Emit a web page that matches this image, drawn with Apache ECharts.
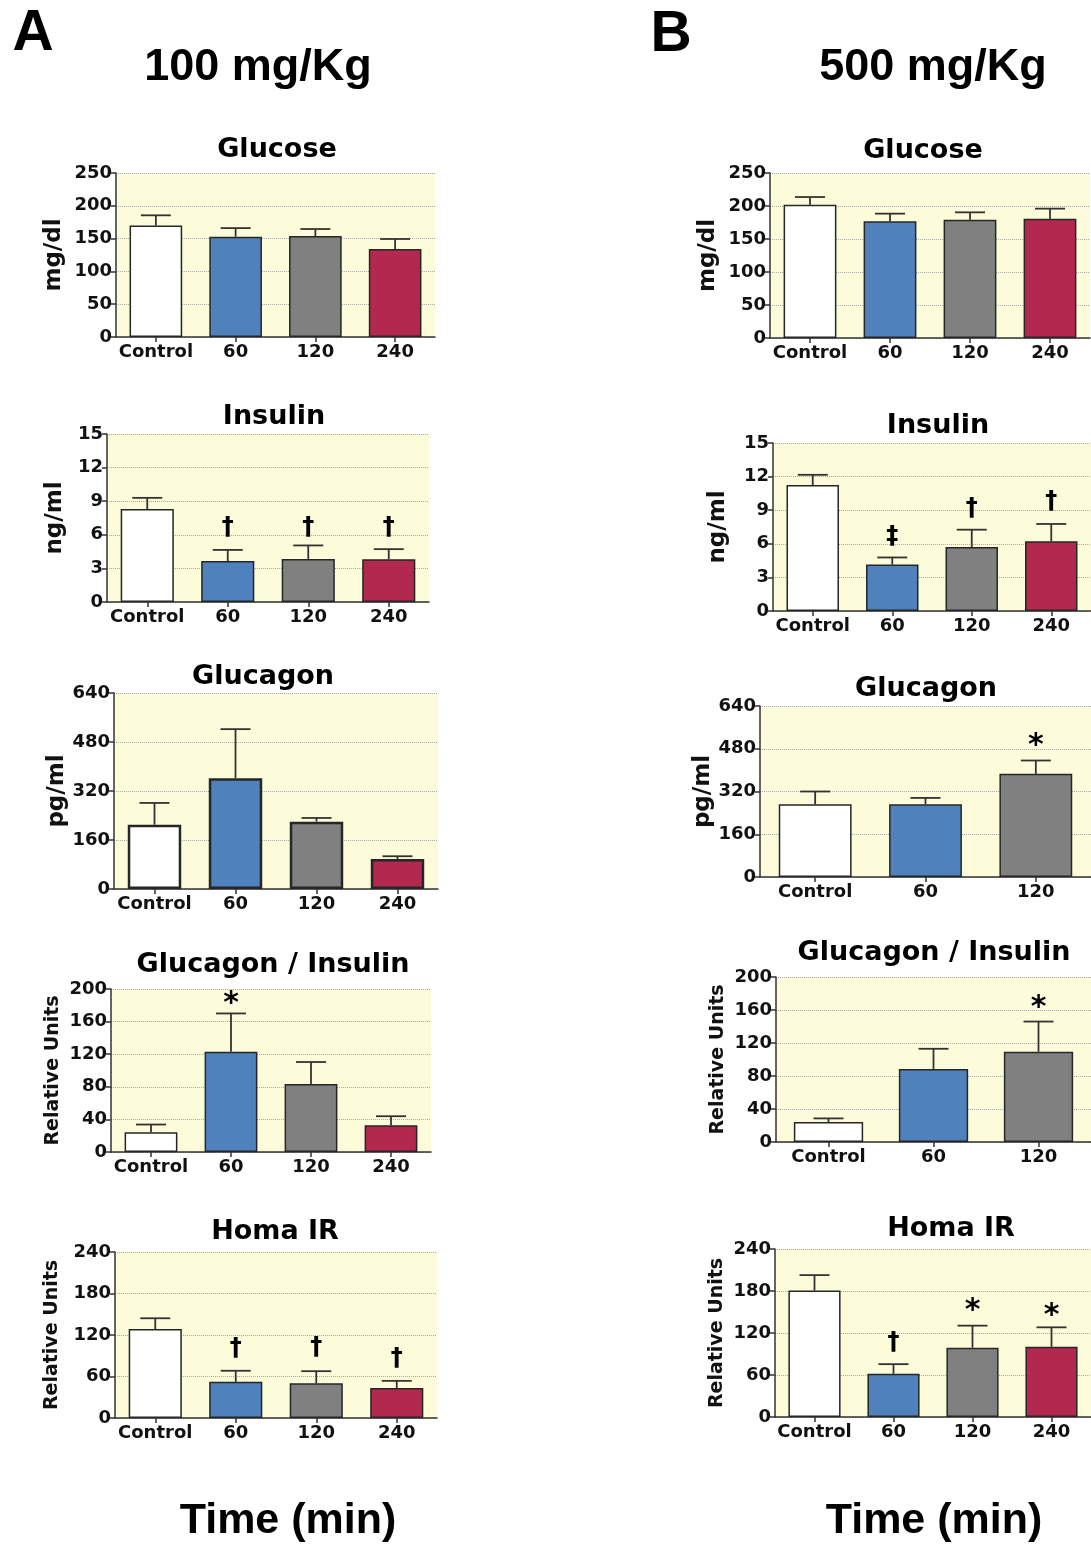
<!DOCTYPE html>
<html><head><meta charset="utf-8">
<script src="https://cdn.jsdelivr.net/npm/echarts@6/dist/echarts.min.js"></script>
<style>html,body{margin:0;padding:0;background:#fff}#c{width:1091px;height:1544px}</style>
</head><body><div id="c"></div>
<script>
// ---------- data ----------
const categories4 = ['Control', '60', '120', '240'];
const categories3 = ['Control', '60', '120'];

// Panel A: 100 mg/Kg
const glucoseA = [170, 153, 154, 134];
const glucoseA_sem = [15.5, 13, 10.6, 15.4];
const insulinA = [8.3, 3.65, 3.85, 3.82];
const insulinA_sem = [1.0, 1.0, 1.2, 0.9];
const insulinA_marks = ['', '†', '†', '†'];
const insulinA_markY = [null, 6.6, 6.6, 6.6];
const glucagonA = [210, 362, 220, 98];
const glucagonA_sem = [71, 160, 12, 9];
const ratioA = [24.2, 123, 83.4, 32.9];
const ratioA_sem = [9.5, 47, 27, 11];
const ratioA_marks = ['', '*', '', ''];
const ratioA_markY = [null, 189, null, null];
const homaA = [128.7, 52.3, 50.3, 43.5];
const homaA_sem = [15.5, 16, 17.4, 10.2];
const homaA_marks = ['', '†', '†', '†'];
const homaA_markY = [null, 100, 102, 86];

// Panel B: 500 mg/Kg
const glucoseB = [202, 176.8, 179.3, 180.8];
const glucoseB_sem = [11.6, 11.6, 11.1, 15.2];
const insulinB = [11.24, 4.15, 5.71, 6.22];
const insulinB_sem = [0.92, 0.63, 1.55, 1.55];
const insulinB_marks = ['', '‡', '†', '†'];
const insulinB_markY = [null, 6.6, 9.1, 9.75];
const glucagonB = [272, 272, 386];
const glucagonB_sem = [48, 24, 50];
const glucagonB_marks = ['', '', '*'];
const glucagonB_markY = [null, null, 512];
const ratioB = [24.1, 88.5, 109.5];
const ratioB_sem = [4.5, 24.5, 36.5];
const ratioB_marks = ['', '', '*'];
const ratioB_markY = [null, null, 170];
const homaB = [180.7, 61.7, 99, 100.4];
const homaB_sem = [22, 13.8, 31.5, 27.7];
const homaB_marks = ['', '†', '*', '*'];
const homaB_markY = [null, 105.7, 160, 153];

const barColors = ['#ffffff', '#4f81bd', '#808080', '#b3284f'];

// ---------- layout ----------
const panels = [
  {title:'Glucose', unit:'mg/dl', cats:categories4, mean:glucoseA, sem:glucoseA_sem, max:250, interval:50,
   grid:{left:116, top:173, width:319, height:164}, nameGap:50, tpos:[277,150], bw:1.5},
  {title:'Insulin', unit:'ng/ml', cats:categories4, mean:insulinA, sem:insulinA_sem, max:15, interval:3,
   marks:insulinA_marks, markY:insulinA_markY,
   grid:{left:107, top:434, width:322, height:168}, nameGap:40, tpos:[274,417], bw:1.5},
  {title:'Glucagon', unit:'pg/ml', cats:categories4, mean:glucagonA, sem:glucagonA_sem, max:640, interval:160,
   grid:{left:114, top:693, width:324, height:196}, nameGap:45, tpos:[263,677], bw:2.5},
  {title:'Glucagon / Insulin', unit:'Relative Units', cats:categories4, mean:ratioA, sem:ratioA_sem, max:200, interval:40,
   marks:ratioA_marks, markY:ratioA_markY,
   grid:{left:111, top:989, width:320, height:163}, nameGap:48, tpos:[273,965], bw:1.5, small:true},
  {title:'Homa IR', unit:'Relative Units', cats:categories4, mean:homaA, sem:homaA_sem, max:240, interval:60,
   marks:homaA_marks, markY:homaA_markY,
   grid:{left:115, top:1252, width:322, height:166}, nameGap:53, tpos:[275,1232], bw:1.5, small:true},

  {title:'Glucose', unit:'mg/dl', cats:categories4, mean:glucoseB, sem:glucoseB_sem, max:250, interval:50,
   grid:{left:770, top:173, width:320, height:165}, nameGap:50, tpos:[923,151], bw:1.5},
  {title:'Insulin', unit:'ng/ml', cats:categories4, mean:insulinB, sem:insulinB_sem, max:15, interval:3,
   marks:insulinB_marks, markY:insulinB_markY,
   grid:{left:773, top:443, width:320, height:168}, nameGap:43, tpos:[938,426], bw:1.5},
  {title:'Glucagon', unit:'pg/ml', cats:categories3, mean:glucagonB, sem:glucagonB_sem, max:640, interval:160,
   marks:glucagonB_marks, markY:glucagonB_markY,
   grid:{left:760, top:706, width:331, height:171}, nameGap:38, tpos:[926,689], bw:1.5},
  {title:'Glucagon / Insulin', unit:'Relative Units', cats:categories3, mean:ratioB, sem:ratioB_sem, max:200, interval:40,
   marks:ratioB_marks, markY:ratioB_markY,
   grid:{left:776, top:977, width:321, height:165}, nameGap:48, tpos:[934,953], bw:1.5, small:true},
  {title:'Homa IR', unit:'Relative Units', cats:categories4, mean:homaB, sem:homaB_sem, max:240, interval:60,
   marks:homaB_marks, markY:homaB_markY,
   grid:{left:775, top:1249, width:322, height:168}, nameGap:48, tpos:[951,1229], bw:1.5, small:true}
];

const FONT = 'DejaVu Sans';
const HFONT = 'Liberation Sans';

const grids = [], xAxes = [], yAxes = [], series = [], graphics = [];

function txt(text, x, y, size, family, rot) {
  return {type:'text', x:x, y:y, rotation: rot || 0,
    style:{text:text, font:'bold ' + size + 'px "' + family + '"', fill:'#000',
      align:'center', verticalAlign:'middle', textAlign:'center', textVerticalAlign:'middle'}};
}

panels.forEach((p, k) => {
  grids.push(Object.assign({show:true, backgroundColor:'#fdfcda', borderWidth:0, containLabel:false}, p.grid));
  xAxes.push({type:'category', gridIndex:k, data:p.cats,
    axisLine:{show:true, lineStyle:{color:'#333', width:1.5}},
    axisTick:{show:true, alignWithLabel:true, length:5, lineStyle:{color:'#333', width:1.5}},
    axisLabel:{interval:0, fontFamily:FONT, fontWeight:'bold', fontSize:18, color:'#111', margin:6},
    splitLine:{show:false}});
  yAxes.push({type:'value', gridIndex:k, min:0, max:p.max, interval:p.interval,
    name:p.unit, nameLocation:'middle', nameGap:p.nameGap,
    nameTextStyle:{fontFamily:FONT, fontWeight:'bold', fontSize:p.small ? 19 : 23, color:'#111'},
    axisLine:{show:true, lineStyle:{color:'#333', width:1.5}},
    axisTick:{show:true, length:5, lineStyle:{color:'#333', width:1.5}},
    axisLabel:{fontFamily:FONT, fontWeight:'bold', fontSize:18, color:'#111', margin:4},
    splitLine:{show:true, lineStyle:{color:'#a8a8a8', type:'dotted', width:1}}});
  series.push({type:'bar', xAxisIndex:k, yAxisIndex:k, barWidth:'66%', z:3,
    data:p.mean.map((v, i) => ({value:v, itemStyle:{color:barColors[i], borderColor:'#262626', borderWidth:p.bw}})),
    silent:true, animation:false});
  const errData = p.mean.map((v, i) => [i, v, v + p.sem[i]]);
  series.push({type:'custom', xAxisIndex:k, yAxisIndex:k, z:2, animation:false, silent:true,
    data:errData,
    renderItem:function(params, api){
      const b = api.coord([api.value(0), api.value(1)]);
      const t = api.coord([api.value(0), api.value(2)]);
      const hw = 15;
      return {type:'group', children:[
        {type:'line', shape:{x1:b[0], y1:b[1], x2:t[0], y2:t[1]}, style:{stroke:'#333', lineWidth:1.8}},
        {type:'line', shape:{x1:t[0]-hw, y1:t[1], x2:t[0]+hw, y2:t[1]}, style:{stroke:'#333', lineWidth:1.8}}
      ]};
    }});
  if (p.marks) {
    const md = [];
    p.marks.forEach((m, i) => { if (m) md.push([i, p.markY[i], md.length]); });
    const texts = p.marks.filter(m => m);
    series.push({type:'custom', xAxisIndex:k, yAxisIndex:k, z:5, animation:false, silent:true,
      data:md,
      renderItem:function(params, api){
        const c = api.coord([api.value(0), api.value(1)]);
        const s = texts[params.dataIndex];
        const star = s === '*';
        return {type:'text', x:c[0], y:c[1] + (star ? 6 : 0),
          style:{text:s, font:'bold ' + (star ? 30 : 24) + 'px "' + FONT + '"', fill:'#000',
            align:'center', verticalAlign:'middle', textAlign:'center', textVerticalAlign:'middle'}};
      }});
  }
  graphics.push(txt(p.title, p.tpos[0], p.tpos[1], 27, FONT));
});

graphics.push(txt('A', 33, 34, 57, HFONT));
graphics.push(txt('B', 671, 35, 57, HFONT));
graphics.push(txt('100 mg/Kg', 258, 68, 45, HFONT));
graphics.push(txt('500 mg/Kg', 933, 68, 45, HFONT));
graphics.push(txt('Time (min)', 288, 1521, 43, HFONT));
graphics.push(txt('Time (min)', 934, 1521, 43, HFONT));

const chart = echarts.init(document.getElementById('c'), null, {renderer:'canvas'});
chart.setOption({
  animation:false,
  backgroundColor:'#ffffff',
  grid:grids, xAxis:xAxes, yAxis:yAxes, series:series,
  graphic:{elements:graphics}
});
</script></body></html>
